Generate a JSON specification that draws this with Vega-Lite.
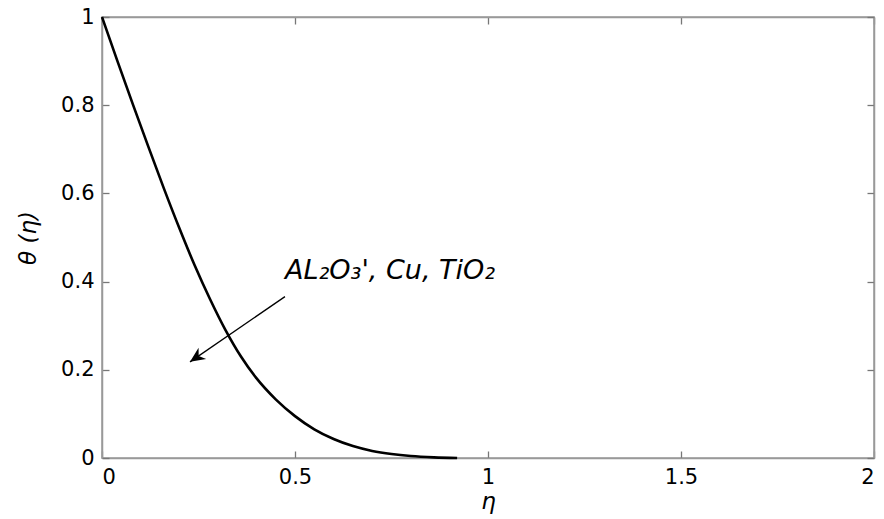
{
  "$schema": "https://vega.github.io/schema/vega-lite/v6.json",
  "width": 772,
  "height": 441,
  "autosize": {"type": "none"},
  "padding": {"left": 102, "top": 17, "right": 10, "bottom": 61},
  "background": "white",
  "config": {
    "view": {"stroke": "#999999", "strokeWidth": 1.5},
    "font": "DejaVu Sans",
    "axis": {
      "domainColor": "#999999",
      "domainWidth": 1.5,
      "tickColor": "#777777",
      "tickWidth": 1.3,
      "tickSize": -7,
      "grid": false,
      "labelFont": "DejaVu Sans",
      "labelFontSize": 21,
      "labelColor": "black",
      "labelPadding": 15,
      "titleFont": "DejaVu Sans",
      "titleFontStyle": "italic",
      "titleFontWeight": "normal",
      "titleFontSize": 23,
      "titleColor": "black"
    }
  },
  "datasets": {
    "curve": [
      {"eta": 0, "theta": 1},
      {"eta": 0.04, "theta": 0.9},
      {"eta": 0.08, "theta": 0.802},
      {"eta": 0.12, "theta": 0.706},
      {"eta": 0.16, "theta": 0.612},
      {"eta": 0.2, "theta": 0.522},
      {"eta": 0.24, "theta": 0.437},
      {"eta": 0.28, "theta": 0.36},
      {"eta": 0.32, "theta": 0.29},
      {"eta": 0.36, "theta": 0.23},
      {"eta": 0.4, "theta": 0.181},
      {"eta": 0.45, "theta": 0.133},
      {"eta": 0.5, "theta": 0.095},
      {"eta": 0.55, "theta": 0.065},
      {"eta": 0.6, "theta": 0.043},
      {"eta": 0.65, "theta": 0.027},
      {"eta": 0.7, "theta": 0.016},
      {"eta": 0.75, "theta": 0.009},
      {"eta": 0.8, "theta": 0.0045},
      {"eta": 0.86, "theta": 0.0015},
      {"eta": 0.92, "theta": 0}
    ],
    "note": [
      {"eta": 0.474, "theta": 0.366, "eta2": 0.228, "theta2": 0.218, "label": "AL₂O₃', Cu, TiO₂", "teta": 0.474, "ttheta": 0.406}
    ]
  },
  "layer": [
    {
      "data": {"name": "curve"},
      "mark": {"type": "line", "color": "black", "strokeWidth": 2.6, "interpolate": "monotone"},
      "encoding": {
        "x": {"field": "eta", "type": "quantitative", "scale": {"domain": [0, 2], "nice": false},
              "axis": {"orient": "bottom", "title": "η", "values": [0, 0.5, 1, 1.5, 2], "format": "~g", "titlePadding": 3}},
        "y": {"field": "theta", "type": "quantitative", "scale": {"domain": [0, 1], "nice": false},
              "axis": {"orient": "left", "title": "θ (η)", "values": [0, 0.2, 0.4, 0.6, 0.8, 1], "format": "~g", "titlePadding": 20}}
      }
    },
    {
      "data": {"name": "note"},
      "mark": {"type": "rule", "color": "black", "strokeWidth": 1.3},
      "encoding": {
        "x": {"field": "eta", "type": "quantitative", "scale": {"domain": [0, 2], "nice": false},
              "axis": {"orient": "top", "labels": false, "title": null, "values": [0, 0.5, 1, 1.5, 2]}},
        "y": {"field": "theta", "type": "quantitative", "scale": {"domain": [0, 1], "nice": false},
              "axis": {"orient": "right", "labels": false, "title": null, "values": [0, 0.2, 0.4, 0.6, 0.8, 1]}},
        "x2": {"field": "eta2"},
        "y2": {"field": "theta2"}
      }
    },
    {
      "data": {"name": "note"},
      "mark": {"type": "point", "filled": true, "color": "black", "opacity": 1,
               "shape": "M0,0 L-0.45,1 L0,0.7 L0.45,1 Z", "size": 900, "angle": 235.6},
      "encoding": {
        "x": {"field": "eta2", "type": "quantitative", "scale": {"domain": [0, 2], "nice": false}, "axis": null},
        "y": {"field": "theta2", "type": "quantitative", "scale": {"domain": [0, 1], "nice": false}, "axis": null}
      }
    },
    {
      "data": {"name": "note"},
      "mark": {"type": "text", "align": "left", "baseline": "alphabetic", "font": "DejaVu Sans",
               "fontStyle": "italic", "fontSize": 27, "color": "black"},
      "encoding": {
        "x": {"field": "teta", "type": "quantitative", "scale": {"domain": [0, 2], "nice": false}, "axis": null},
        "y": {"field": "ttheta", "type": "quantitative", "scale": {"domain": [0, 1], "nice": false}, "axis": null},
        "text": {"field": "label"}
      }
    }
  ],
  "resolve": {"scale": {"x": "independent", "y": "independent"}}
}
